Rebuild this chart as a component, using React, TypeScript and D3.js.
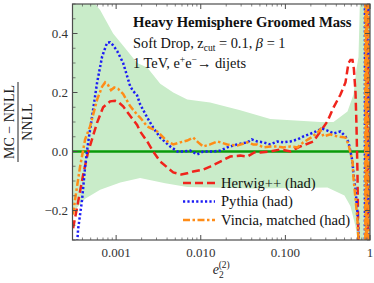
import React from 'react';
import * as d3 from 'd3';

// values: [e2, (MC - NNLL)/NNLL]
const herwig: [number, number][] = [
  [3.1e-4, -0.26], [3.45e-4, -0.19], [4.07e-4, -0.08], [4.67e-4, 0.0], [4.92e-4, 0.02],
  [5.96e-4, 0.098], [7.02e-4, 0.15], [8.49e-4, 0.17], [9.73e-4, 0.172], [1.06e-3, 0.168],
  [1.21e-3, 0.153], [1.47e-3, 0.12], [1.77e-3, 0.09], [1.92e-3, 0.068], [2.33e-3, 0.034],
  [2.74e-3, 0.0], [3.32e-3, -0.034], [4.02e-3, -0.054], [4.73e-3, -0.071], [5.9e-3, -0.078],
  [6.92e-3, -0.074], [8.15e-3, -0.068], [1.07e-2, -0.061], [1.29e-2, -0.051], [1.7e-2, -0.034],
  [2.23e-2, -0.017], [2.93e-2, -0.014], [3.55e-2, -0.017], [4.3e-2, -0.003], [5.06e-2, -0.003],
  [6.64e-2, 0.0], [8.73e-2, 0.007], [0.115, 0.0], [0.15, 0.017], [0.214, 0.034],
  [0.259, 0.068], [0.314, 0.102], [0.37, 0.149], [0.448, 0.193], [0.513, 0.234],
  [0.557, 0.3], [0.588, 0.31], [0.621, 0.31], [0.645, 0.28], [0.674, 0.2],
  [0.692, 0.09], [0.711, -0.07], [0.731, -0.35],
  [0.915, -0.35], [0.915, 0.55], [0.94, 0.55], [0.94, -0.35],
];

const pythia: [number, number][] = [
  [3.45e-4, -0.32], [3.55e-4, -0.264], [3.96e-4, -0.163], [4.3e-4, -0.051], [4.67e-4, 0.031],
  [5.2e-4, 0.119], [5.96e-4, 0.234], [6.83e-4, 0.322], [7.82e-4, 0.369], [8.49e-4, 0.37],
  [9.21e-4, 0.36], [1.03e-3, 0.34], [1.21e-3, 0.3], [1.47e-3, 0.22], [1.59e-3, 0.205],
  [1.77e-3, 0.19], [1.92e-3, 0.16], [2.33e-3, 0.115], [2.74e-3, 0.081], [3.32e-3, 0.047],
  [4.36e-3, 0.017], [5.3e-3, 0.0], [6.3e-3, 0.0], [7.5e-3, 0.003], [9.1e-3, -0.01],
  [1.07e-2, 0.0], [1.41e-2, 0.0], [1.7e-2, 0.003], [2.06e-2, 0.014], [2.7e-2, 0.024],
  [3.55e-2, 0.031], [4.0e-2, 0.041], [4.66e-2, 0.034], [5.49e-2, 0.031], [6.64e-2, 0.024],
  [8.04e-2, 0.034], [9.46e-2, 0.031], [0.115, 0.034], [0.139, 0.041], [0.163, 0.051],
  [0.19, 0.058], [0.23, 0.068], [0.27, 0.078], [0.314, 0.071], [0.37, 0.061],
  [0.448, 0.068], [0.513, 0.051], [0.557, 0.031], [0.588, 0.0], [0.621, -0.034],
  [0.638, -0.078], [0.674, -0.129], [0.711, -0.207], [0.731, -0.275], [0.751, -0.35],
  [0.87, -0.35], [0.87, 0.55], [0.955, 0.55], [0.955, -0.35],
];

const vincia: [number, number][] = [
  [3.1e-4, -0.214], [3.27e-4, -0.163], [3.75e-4, -0.051], [4.3e-4, 0.041], [4.92e-4, 0.085],
  [5.96e-4, 0.176], [6.83e-4, 0.22], [7.41e-4, 0.234], [8.04e-4, 0.225], [8.7e-4, 0.208],
  [9.5e-4, 0.217], [1.06e-3, 0.212], [1.21e-3, 0.195], [1.47e-3, 0.153], [1.77e-3, 0.125],
  [1.92e-3, 0.115], [2.33e-3, 0.085], [3.06e-3, 0.068], [4.02e-3, 0.034], [4.73e-3, 0.024],
  [5.72e-3, 0.031], [6.92e-3, 0.037], [8.15e-3, 0.047], [9.33e-3, 0.031], [1.07e-2, 0.017],
  [1.29e-2, 0.024], [1.57e-2, 0.034], [2.06e-2, 0.024], [2.7e-2, 0.02], [3.55e-2, 0.031],
  [4.18e-2, 0.024], [4.66e-2, 0.024], [5.49e-2, 0.014], [6.64e-2, 0.017], [8.04e-2, 0.017],
  [9.46e-2, 0.014], [0.115, 0.017], [0.139, 0.014], [0.163, 0.031], [0.2, 0.047],
  [0.24, 0.064], [0.259, 0.075], [0.282, 0.051], [0.34, 0.058], [0.412, 0.051],
  [0.513, 0.047], [0.557, 0.024], [0.621, -0.034], [0.638, -0.09], [0.674, -0.16],
  [0.711, -0.23], [0.731, -0.3], [0.751, -0.35],
  [0.88, -0.35], [0.88, 0.55], [0.9, 0.55], [0.9, -0.35], [0.925, -0.35], [0.925, 0.55],
  [0.965, 0.55], [0.965, -0.35],
];

const bandUpper: [number, number][] = [
  [3.0e-4, 0.6], [5.64e-4, 0.5], [6.47e-4, 0.48], [9.21e-4, 0.4], [1.28e-3, 0.35],
  [1.77e-3, 0.3], [2.33e-3, 0.285], [3.32e-3, 0.23], [4.73e-3, 0.2], [6.92e-3, 0.176],
  [1.29e-2, 0.166], [2.93e-2, 0.14], [6.64e-2, 0.11], [0.259, 0.1], [0.37, 0.1],
  [0.542, 0.136], [0.638, 0.193], [0.692, 0.28], [0.731, 0.32], [0.751, 0.45],
  [0.772, 0.6], [1.0, 0.6],
];

const bandLower: [number, number][] = [
  [3.0e-4, -0.21], [4.3e-4, -0.16], [6.47e-4, -0.13], [1.12e-3, -0.105], [1.92e-3, -0.09],
  [3.8e-3, -0.108], [6.92e-3, -0.12], [4.3e-2, -0.125], [0.314, -0.122], [0.499, -0.149],
  [0.588, -0.186], [0.674, -0.254], [0.711, -0.3], [0.74, -0.4], [1.0, -0.4],
];

const xTicks = [0.001, 0.01, 0.1, 1];
const xTickLabels = ['0.001', '0.010', '0.100', '1'];
const yTicks = [-0.2, 0, 0.2, 0.4];
const yTickLabels = ['\u22120.2', '0.0', '0.2', '0.4'];
const legendLabels = ['Herwig++ (had)', 'Pythia (had)', 'Vincia, matched (had)'];

const W = 374, H = 283;
const L = 72.5, R = 370, T = 4, B = 240;
const FONT = '"Liberation Serif", "Times New Roman", serif';
const FRAME = '#4d4d4d';

const series = [
  { data: herwig, color: '#f0241c', dash: '8,4' },
  { data: pythia, color: '#1c1cf5', dash: '2.2,2.2' },
  { data: vincia, color: '#ff8c17', dash: '7,2.5,2.5,2.5' },
];

export default function App() {
  const x = d3.scaleLog().domain([3.05e-4, 1]).range([L, R]);
  const y = d3.scaleLinear().domain([-0.3, 0.5]).range([B, T]);
  const line = d3.line<[number, number]>().x(d => x(d[0])).y(d => y(d[1]));
  const bandPath = line([...bandUpper, ...bandLower.slice().reverse()]) + 'Z';

  const minorX: number[] = [];
  for (let e = -4; e <= -1; e++) {
    for (let k = 2; k <= 9; k++) {
      const v = k * Math.pow(10, e);
      if (v > 3.05e-4 && v < 1) minorX.push(v);
    }
  }
  const minorY = d3.range(-0.3, 0.5001, 0.05).filter(v => !yTicks.some(t => Math.abs(t - v) < 1e-6));

  return (
    <div style={{ width: W, height: H }}>
      <style>{`body{margin:0}`}</style>
      <svg width={W} height={H} style={{ display: 'block', background: '#fff' }} fontFamily={FONT}>
        <defs>
          <clipPath id="plot">
            <rect x={L} y={T} width={R - L} height={B - T} />
          </clipPath>
        </defs>
        <g clipPath="url(#plot)">
          <path d={bandPath} fill="#c9ecc9" />
          <line x1={L} x2={R} y1={y(0)} y2={y(0)} stroke="#0a9a0a" strokeWidth={2.5} />
          {series.map((s, i) => (
            <path key={i} d={line(s.data) ?? ''} fill="none" stroke={s.color}
              strokeWidth={2.5} strokeDasharray={s.dash} />
          ))}
        </g>

        {/* frame and inward ticks */}
        <rect x={L} y={T} width={R - L} height={B - T} fill="none" stroke={FRAME} strokeWidth={1.2} />
        {xTicks.map(v => (
          <g key={'xt' + v} stroke={FRAME} strokeWidth={1}>
            <line x1={x(v)} x2={x(v)} y1={B} y2={B - 5} />
            <line x1={x(v)} x2={x(v)} y1={T} y2={T + 5} />
          </g>
        ))}
        {minorX.map(v => (
          <g key={'xm' + v} stroke={FRAME} strokeWidth={0.7}>
            <line x1={x(v)} x2={x(v)} y1={B} y2={B - 2.5} />
            <line x1={x(v)} x2={x(v)} y1={T} y2={T + 2.5} />
          </g>
        ))}
        {yTicks.map(v => (
          <g key={'yt' + v} stroke={FRAME} strokeWidth={1}>
            <line x1={L} x2={L + 5} y1={y(v)} y2={y(v)} />
            <line x1={R} x2={R - 5} y1={y(v)} y2={y(v)} />
          </g>
        ))}
        {minorY.map(v => (
          <g key={'ym' + v} stroke={FRAME} strokeWidth={0.7}>
            <line x1={L} x2={L + 3} y1={y(v)} y2={y(v)} />
            <line x1={R} x2={R - 3} y1={y(v)} y2={y(v)} />
          </g>
        ))}

        {xTicks.map((v, i) => (
          <text key={'xl' + v} x={x(v)} y={257} textAnchor="middle" fontSize={13} fill="#333">
            {xTickLabels[i]}
          </text>
        ))}
        {yTicks.map((v, i) => (
          <text key={'yl' + v} x={68} y={y(v) + 4.5} textAnchor="end" fontSize={13} fill="#333">
            {yTickLabels[i]}
          </text>
        ))}

        {/* axis labels */}
        <text x={(L + R) / 2} y={274} textAnchor="middle" fontSize={14} fill="#222">
          <tspan fontStyle="italic">e</tspan>
          <tspan fontSize={9.5} dy={4}>2</tspan>
          <tspan fontSize={9.5} dx={-5} dy={-10}>(2)</tspan>
        </text>
        <g transform="translate(18,122) rotate(-90)" fill="#222">
          <text x={0} y={-4} textAnchor="middle" fontSize={14}>MC − NNLL</text>
          <line x1={-40} x2={40} y1={0} y2={0} stroke="#222" strokeWidth={1} />
          <text x={0} y={14} textAnchor="middle" fontSize={14}>NNLL</text>
        </g>

        {/* annotations */}
        <text x={133} y={27} fontSize={14.7} fontWeight="bold" fill="#111">Heavy Hemisphere Groomed Mass</text>
        <text x={133} y={48} fontSize={14.4} fill="#111">
          Soft Drop, z<tspan fontSize={9.5} dy={3}>cut</tspan>
          <tspan dy={-3}> = 0.1, </tspan>
          <tspan fontStyle="italic">β</tspan> = 1
        </text>
        <text x={133} y={68} fontSize={14.4} fill="#111">
          1 TeV, e<tspan fontSize={9.5} dy={-5}>+</tspan>
          <tspan dy={5}>e</tspan>
          <tspan fontSize={9.5} dy={-5}>−</tspan>
          <tspan dy={5}>→ dijets</tspan>
        </text>

        {/* legend */}
        {series.map((s, i) => (
          <g key={'lg' + i}>
            <line x1={183} x2={215} y1={183 + i * 18.5} y2={183 + i * 18.5} stroke={s.color}
              strokeWidth={2.5} strokeDasharray={s.dash} />
            <text x={221} y={187.5 + i * 18.5} fontSize={14.6} fill="#111">{legendLabels[i]}</text>
          </g>
        ))}
      </svg>
    </div>
  );
}
